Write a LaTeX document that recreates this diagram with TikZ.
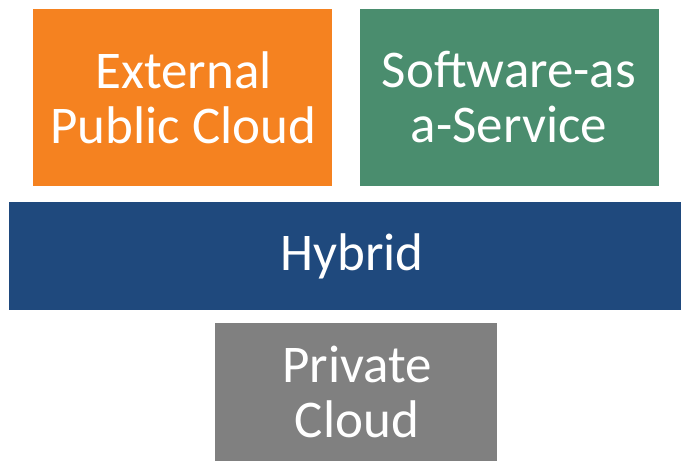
\documentclass[tikz,border=0pt]{standalone}
\usepackage{fontspec}
\setmainfont{Carlito}
\definecolor{orangebox}{HTML}{F58220}
\definecolor{greenbox}{HTML}{4A8D6E}
\definecolor{bluebox}{HTML}{1F497D}
\definecolor{graybox}{HTML}{808080}
\begin{document}
\begin{tikzpicture}[x=1pt,y=-1pt,
  boxtext/.style={text=white,font=\fontsize{53}{55}\selectfont,align=center,inner sep=0pt}]
\useasboundingbox (0,0) rectangle (681,461);
\fill[orangebox] (33,9) rectangle (332,186);
\node[boxtext] (ext) at (183.5,97.5) {External\\Public Cloud};
\fill[greenbox] (360,9) rectangle (659,186);
\node[boxtext] (saas) at (509,97.5) {Software-as\\a-Service};
\fill[bluebox] (9,202) rectangle (681,310);
\node[boxtext] (hyb) at (352,256) {Hybrid};
\fill[graybox] (215,323) rectangle (497,461);
\node[boxtext] (priv) at (357,392) {Private\\Cloud};
\end{tikzpicture}
\end{document}
